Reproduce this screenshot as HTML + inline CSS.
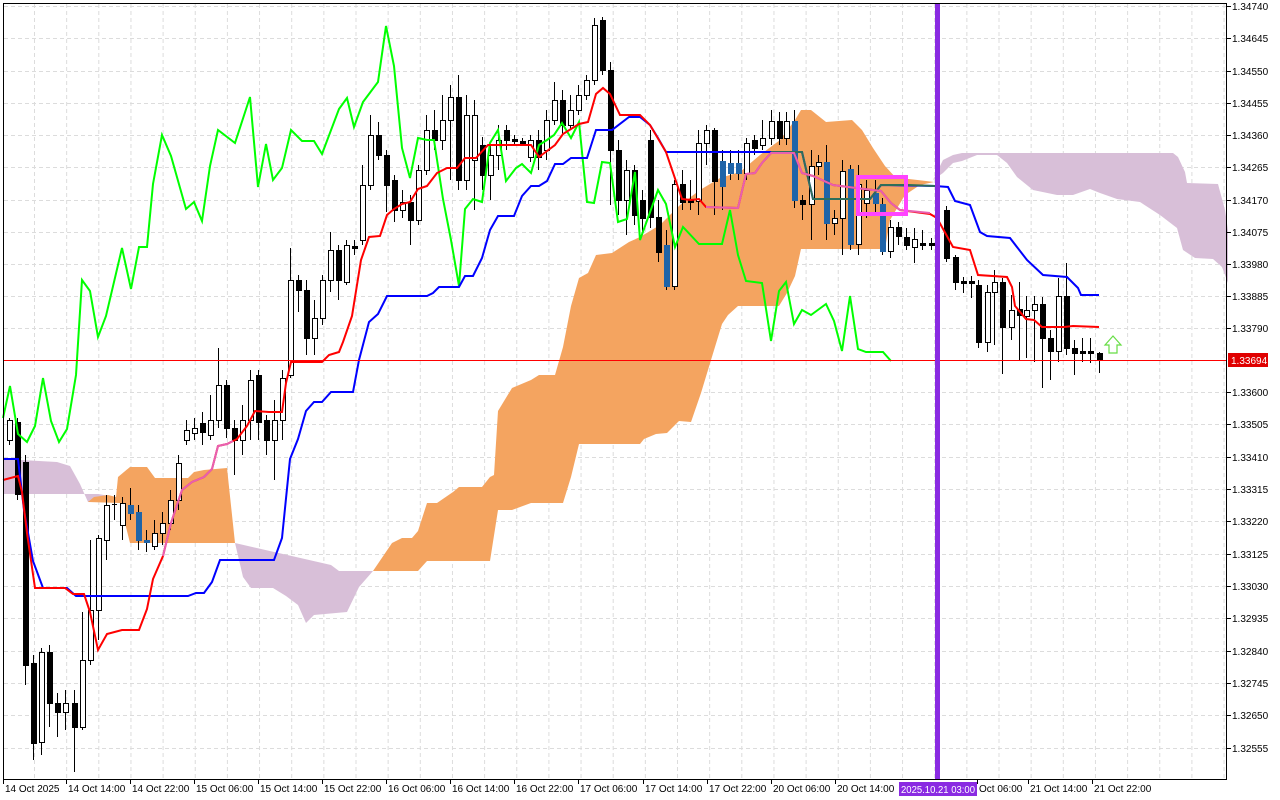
<!DOCTYPE html>
<html><head><meta charset="utf-8"><style>
html,body{margin:0;padding:0;background:#fff;}
svg{display:block;font-family:"Liberation Sans",sans-serif;font-size:10px;}
</style></head><body>
<svg id="s" width="1280" height="800" viewBox="0 0 1280 800" xmlns="http://www.w3.org/2000/svg">
<rect width="1280" height="800" fill="#fff"/>
<g id="grid" stroke="#dcdcdc" stroke-width="1" stroke-dasharray="4,3"></g>
<polygon fill="#d8bfd8" points="3,459 57,462 70,466 80,484 88,502 120,502 116,497 98,494 57,494 3,494"/>
<polygon fill="#f4a460" points="88,502 94,497 108,495 116,497 118,477 130,467 147,467 155,478 188,478 194,472 204,470 227,468 235,543 130,543 120,503"/>
<polygon fill="#d8bfd8" points="235,543 331,565 339,571 373,571 359,587 347,612 314,615 306,623 298,605 286,596 273,588 251,588 243,577"/>
<polygon fill="#f4a460" points="373,571 392,543 402,538 412,538 418,531 427,503 437,503 453,492 459,487 482,487 490,477 494,475 498,411 512,388 531,380 539,375 555,375 563,347 571,306 579,278 588,273 596,255 612,253 629,242 640,237 660,225 680,205 700,190 720,178 740,172 760,155 780,140 795,120 801,110 811,110 826,122 852,120 862,130 873,148 885,166 897,179 909,179 926,181 934,182 920,185 905,195 890,220 885,249 801,249 795,276 787,293 779,306 738,306 728,315 722,324 711,360 701,393 691,422 679,421 667,433 656,434 644,439 640,444 579,444 571,477 563,503 531,503 512,510 498,510 490,561 427,561 418,571"/>
<polygon fill="#d8bfd8" points="933,180 943,160 953,155 962,153 1173,153 1178,157 1185,172 1187,183 1218,184 1225,210 1228,230 1228,283 1222,267 1213,259 1195,258 1183,250 1177,228 1160,215 1140,202 1117,199 1100,193 1090,189 1073,195 1057,195 1033,190 1017,177 1007,163 997,155 977,155 962,161 953,163 943,173"/>
<g id="candles"></g>
<polyline fill="none" stroke="#00ff00" stroke-width="2" points="3,418 10,386 18,434 27,442 35,426 43,378 51,421 59,442 67,429 76,375 82,280 90,291 98,337 106,316 122,248 131,289 139,247 147,247 153,184 162,135 171,156 186,209 194,202 202,221 210,166 218,130 235,143 250,97 258,187 266,144 273,180 282,168 291,130 302,141 314,141 322,154 339,109 347,98 354,127 363,102 378,82 386,26 394,66 402,148 410,178 418,138 427,140 434,140 443,199 451,240 459,286 465,209 473,199 482,202 490,143 498,130 506,181 516,168 522,164 531,173 539,145 547,140 554,135 562,123 571,138 579,122 587,202 594,203 602,162 610,163 618,222 627,219 635,172 640,240 658,190 666,204 675,247 683,227 699,244 714,244 722,244 730,210 738,255 746,281 762,283 771,341 779,291 786,282 794,324 802,310 811,315 826,304 834,321 842,351 850,296 858,349 866,352 883,352 891,361"/>
<polyline fill="none" stroke="#0000ff" stroke-width="2" points="3,459 18,459 24,510 33,561 43,588 67,588 76,596 188,596 196,593 204,593 212,582 220,560 274,560 282,538 290,459 298,439 306,411 314,402 322,402 331,392 353,392 359,360 369,322 378,314 387,296 427,296 433,293 439,287 459,287 465,276 473,276 482,258 490,230 498,216 514,216 522,196 531,186 539,186 547,181 555,164 563,164 571,158 587,158 596,130 612,130 629,117 640,117 650,125 658,138 666,152 802,152 813,199 856,199 870,199 881,185 935,186 948,187 955,201 970,205 980,232 987,236 1010,238 1027,260 1043,275 1067,277 1078,288 1081,295 1099,295"/>
<polyline fill="none" stroke="#2e6e5a" stroke-width="2" points="771,152 802,152 813,199 856,199 870,199 881,185 909,185 935,186"/>
<polyline fill="none" stroke="#ff0000" stroke-width="2" points="3,480 18,476 22,492 27,533 35,588 65,588 73,594 84,594 90,612 98,650 107,634 122,630 139,630 147,609 153,579 163,556 171,523 182,490 192,482 204,477 212,469 218,446 227,444 237,439 247,426 255,411 269,412 282,412 286,383 291,362 322,362 329,355 339,352 343,342 352,316 361,260 369,237 380,236 387,215 394,209 402,204 410,202 418,189 427,186 437,173 447,168 457,168 465,158 476,158 488,145 531,145 539,157 555,145 563,134 571,129 579,124 588,122 596,94 603,88 610,94 620,115 640,115 650,125 666,152 682,199 691,200 699,199 706,207 738,208 746,174 755,173 762,163 771,153 794,153 802,173 813,176 833,185 856,188 881,191 891,203 900,210 930,214 937,218 953,247 970,250 978,275 1007,277 1012,287 1015,306 1026,319 1034,320 1042,327 1064,327 1073,326 1099,327"/>
<polyline fill="none" stroke="#e860b0" stroke-width="2" points="163,556 171,523 182,490 192,482 204,477 212,469 218,446 227,444 233,441"/>
<polyline fill="none" stroke="#e860b0" stroke-width="2" points="706,207 738,208 746,174 755,173 762,163 771,153 794,153 802,173 813,176 833,185 856,188 881,191 891,203 900,210 930,213"/>
<rect x="858" y="177" width="48" height="37" fill="none" stroke="#ff44ff" stroke-width="4"/>
<line x1="3" y1="360.5" x2="1227" y2="360.5" stroke="#ff0000" stroke-width="1"/>
<line x1="937.5" y1="3" x2="937.5" y2="779" stroke="#8a2be2" stroke-width="5"/>
<path d="M1113,336 L1121,345 L1117,345 L1117,353 L1109,353 L1109,345 L1105,345 Z" fill="none" stroke="#66dd44" stroke-width="1.2"/>
<rect x="3.5" y="3.5" width="1223" height="776" fill="none" stroke="#000" stroke-width="1"/>
<g id="axes" fill="#000"></g>
<rect x="1228" y="353" width="40" height="14" fill="#e00000"/>
<text x="1231" y="364" fill="#fff">1.33694</text>
<rect x="899" y="782" width="78" height="14" fill="#8a2be2"/>
<text x="901" y="793" fill="#fff" textLength="74" lengthAdjust="spacingAndGlyphs">2025.10.21 03:00</text>
</svg>
<script>
var NS="http://www.w3.org/2000/svg";
function el(p,t,a,txt){var e=document.createElementNS(NS,t);for(var k in a)e.setAttribute(k,a[k]);if(txt)e.textContent=txt;p.appendChild(e);return e;}
var grid=document.getElementById('grid'),ax=document.getElementById('axes'),cg=document.getElementById('candles');
var prices=[["1.34740",6],["1.34645",38],["1.34550",71],["1.34455",103],["1.34360",135],["1.34265",167],["1.34170",200],["1.34075",232],["1.33980",264],["1.33885",296],["1.33790",328],["1.33600",392],["1.33505",424],["1.33410",457],["1.33315",489],["1.33220",521],["1.33125",554],["1.33030",586],["1.32935",618],["1.32840",651],["1.32745",683],["1.32650",715],["1.32555",748]];
prices.forEach(function(p){el(grid,'line',{x1:4,x2:1226,y1:p[1]+.5,y2:p[1]+.5});el(ax,'line',{x1:1227,x2:1231,y1:p[1]+.5,y2:p[1]+.5,stroke:'#000'});el(ax,'text',{x:1232,y:p[1]+4},p[0]);});
for(var x=34.5;x<1226;x+=32.15){el(grid,'line',{x1:x,x2:x,y1:4,y2:778});}
var times=[["14 Oct 2025",3],["14 Oct 14:00",66],["14 Oct 22:00",130],["15 Oct 06:00",194],["15 Oct 14:00",258],["15 Oct 22:00",322],["16 Oct 06:00",386],["16 Oct 14:00",450],["16 Oct 22:00",514],["17 Oct 06:00",578],["17 Oct 14:00",643],["17 Oct 22:00",707],["20 Oct 06:00",771],["20 Oct 14:00",835],["Oct 06:00",977],["21 Oct 14:00",1028],["21 Oct 22:00",1092]];
times.forEach(function(t){el(ax,'line',{x1:t[1]+.5,x2:t[1]+.5,y1:779,y2:784,stroke:'#000'});el(ax,'text',{x:t[1]+2,y:792},t[0]);});
var C=[[9,440,420,418,445,'w'],[17,422,494,418,500,'b'],[25,462,665,455,685,'b'],[33,663,743,655,760,'b'],[41,742,652,648,755,'w'],[49,652,703,645,727,'b'],[57,703,712,693,737,'b'],[65,712,703,690,730,'w'],[74,703,727,690,772,'b'],[82,727,660,612,730,'w'],[90,660,610,540,665,'w'],[98,610,538,535,640,'w'],[106,540,505,495,560,'w'],[114,504,504,495,520,'w'],[122,525,503,497,540,'w'],[130,505,513,488,520,'u'],[138,512,540,505,550,'u'],[146,540,542,530,552,'u'],[154,546,533,520,550,'w'],[162,533,523,512,545,'w'],[170,523,500,490,530,'w'],[178,500,463,455,510,'w'],[186,440,430,420,445,'w'],[194,433,428,418,440,'w'],[202,423,432,412,445,'b'],[210,435,420,395,440,'w'],[218,420,385,348,428,'w'],[226,385,428,380,438,'b'],[234,428,440,420,475,'b'],[242,440,420,405,455,'w'],[250,420,380,370,440,'w'],[258,375,422,370,440,'b'],[266,420,440,415,455,'b'],[274,440,420,400,480,'w'],[282,420,378,370,440,'w'],[290,375,280,248,378,'w'],[298,280,290,275,312,'b'],[306,290,338,280,355,'b'],[314,338,318,300,355,'w'],[322,318,280,275,325,'w'],[330,280,250,232,292,'w'],[338,250,280,245,300,'b'],[346,282,245,240,285,'w'],[354,246,248,240,255,'b'],[362,240,185,165,245,'w'],[370,185,135,115,190,'w'],[378,135,155,122,160,'b'],[386,155,185,150,212,'b'],[394,180,210,175,222,'b'],[402,210,202,190,218,'w'],[410,202,220,195,245,'b'],[418,220,170,165,225,'w'],[426,170,130,115,175,'w'],[434,130,140,110,150,'b'],[442,140,120,95,150,'w'],[450,120,97,85,180,'w'],[458,97,180,75,190,'b'],[466,180,115,95,190,'w'],[474,115,160,100,210,'w'],[482,145,175,137,190,'b'],[490,175,155,145,200,'w'],[498,155,140,125,170,'w'],[506,130,140,125,150,'b'],[514,139,141,135,145,'b'],[522,141,143,138,146,'b'],[530,157,140,135,162,'w'],[538,140,157,130,170,'b'],[546,150,120,110,160,'w'],[554,120,100,82,125,'w'],[562,100,125,90,135,'b'],[570,125,110,95,130,'w'],[578,110,95,85,115,'w'],[586,95,80,75,100,'w'],[594,80,25,18,85,'w'],[602,20,70,17,75,'b'],[610,70,150,62,205,'b'],[618,150,200,140,215,'b'],[626,200,170,160,235,'w'],[634,170,215,165,225,'b'],[642,200,218,190,235,'b'],[650,140,217,130,228,'b'],[658,217,252,200,262,'b'],[666,245,286,230,290,'u'],[674,286,184,180,290,'w'],[682,184,202,170,210,'b'],[690,200,202,180,210,'b'],[698,201,143,130,215,'w'],[706,143,130,125,165,'w'],[714,130,181,128,215,'b'],[722,186,161,150,210,'u'],[730,163,173,150,180,'u'],[738,173,163,150,180,'u'],[746,173,143,138,180,'w'],[754,140,148,135,155,'b'],[762,145,138,120,150,'w'],[771,138,121,110,145,'w'],[779,121,138,112,145,'b'],[786,138,121,112,145,'w'],[794,121,200,110,208,'u'],[802,200,204,195,220,'b'],[811,204,166,150,240,'w'],[818,166,162,155,175,'w'],[826,162,223,145,240,'u'],[834,223,218,210,235,'w'],[842,218,171,160,255,'w'],[850,169,244,165,250,'u'],[858,244,184,165,255,'w'],[866,203,190,180,218,'w'],[875,193,203,180,215,'u'],[882,204,251,198,255,'u'],[890,251,227,220,258,'w'],[898,227,236,222,245,'b'],[906,237,245,228,250,'b'],[914,247,239,228,263,'w'],[922,243,245,230,250,'b'],[931,243,245,238,250,'b'],[946,210,258,206,262,'b'],[955,257,282,255,290,'b'],[963,281,283,277,293,'b'],[971,281,283,276,298,'b'],[978,285,342,280,348,'b'],[987,342,292,285,352,'w'],[994,292,282,270,345,'w'],[1002,282,327,278,374,'b'],[1011,327,310,295,340,'w'],[1019,309,315,282,360,'b'],[1026,316,310,296,358,'w'],[1034,310,304,296,362,'w'],[1042,304,338,297,388,'b'],[1050,338,351,330,380,'b'],[1058,351,296,278,362,'w'],[1066,296,348,263,355,'b'],[1074,348,353,340,375,'b'],[1082,351,353,338,362,'b'],[1090,351,353,338,363,'b'],[1099,353,360,352,373,'b']];
C.forEach(function(c){var x=c[0],t=Math.min(c[1],c[2]),b=Math.max(c[1],c[2]);
el(cg,'line',{x1:x+.5,x2:x+.5,y1:c[3],y2:c[4],stroke:'#000','stroke-width':1});
var f=c[5]=='w'?'#fff':(c[5]=='u'?'#1f64a8':'#000');var s=c[5]=='u'?'#1f64a8':'#000';
if(b-t<2){el(cg,'rect',{x:x-2,y:t,width:5,height:Math.max(1,b-t),fill:s});}
else el(cg,'rect',{x:x-2+.5,y:t+.5,width:5,height:b-t,fill:f,stroke:s,'stroke-width':1});});
</script>
</body></html>
